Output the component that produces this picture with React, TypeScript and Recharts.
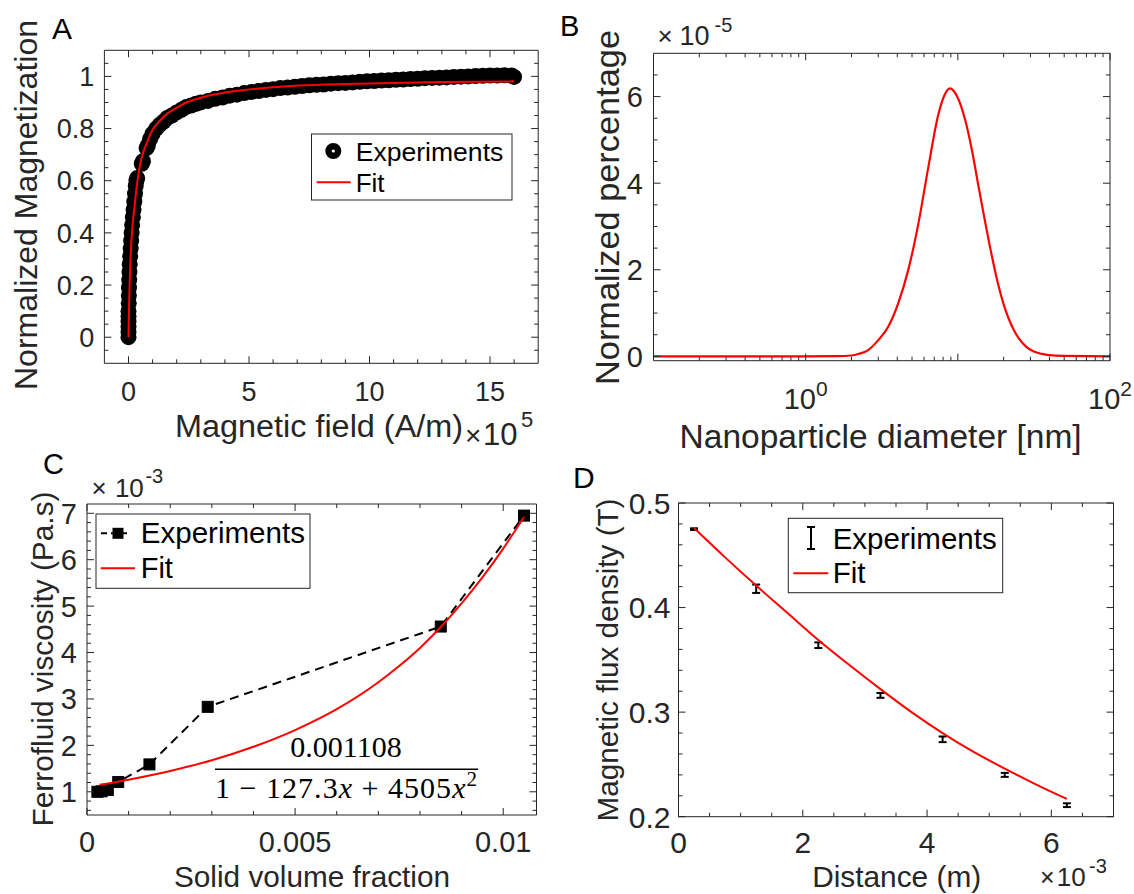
import React from 'react';
import { ComposedChart, Line, Scatter, XAxis, YAxis, ErrorBar } from 'recharts';

const AXIS = '#262626';
const FONT = "'Liberation Sans', Arial, Helvetica, sans-serif";
const SERIF = "'Liberation Serif', 'DejaVu Serif', serif";

// ---------- Panel A : magnetization ----------
const hFitA = [0, 0.01, 0.02, 0.04, 0.07, 0.11, 0.17, 0.25, 0.33, 0.42, 0.5, 0.6, 0.8, 1.0, 1.3, 1.65, 2.0, 2.4, 3.0, 3.4, 4.0, 4.8, 6.0, 7.1, 9.0, 11.0, 13.0, 16.0];
const mFitA = [0, 0.06, 0.1, 0.18, 0.27, 0.35, 0.43, 0.5, 0.57, 0.63, 0.67, 0.705, 0.755, 0.795, 0.83, 0.86, 0.88, 0.9, 0.918, 0.928, 0.938, 0.948, 0.958, 0.965, 0.971, 0.975, 0.978, 0.981];
const hExpA = [0, 0, 0, 0, 0, 0, 0.01, 0.015, 0.02, 0.03, 0.04, 0.05, 0.07, 0.09, 0.11, 0.13, 0.15, 0.18, 0.21, 0.24, 0.27, 0.3, 0.33, 0.36,
  0.55, 0.6, 0.75, 0.8,
  0.9, 1.0, 1.15, 1.3, 1.45, 1.6, 1.8, 2.0, 2.2, 2.4, 2.6, 2.8, 3.0,
  3.3, 3.6, 3.9, 4.2, 4.5, 4.8, 5.1, 5.4, 5.7, 6.0, 6.3, 6.6, 6.9, 7.2, 7.5, 7.8, 8.1, 8.4, 8.7, 9.0, 9.3, 9.6, 9.9, 10.2, 10.5, 10.8,
  11.1, 11.4, 11.7, 12.0, 12.3, 12.6, 12.9, 13.2, 13.5, 13.8, 14.1, 14.4, 14.7, 15.0, 15.3, 15.6, 15.9, 16.0];
const mExpA = [0, 0.02, 0.04, 0.06, 0.08, 0.1, 0.13, 0.16, 0.19, 0.22, 0.25, 0.28, 0.31, 0.34, 0.37, 0.4, 0.43, 0.46, 0.49, 0.52, 0.55, 0.58, 0.6, 0.61,
  0.665, 0.675, 0.725, 0.735,
  0.76, 0.78, 0.8, 0.815, 0.826, 0.84, 0.85, 0.862, 0.872, 0.883, 0.888, 0.895, 0.9,
  0.906, 0.914, 0.919, 0.926, 0.93, 0.936, 0.94, 0.944, 0.948, 0.951, 0.955, 0.957, 0.96, 0.963, 0.966, 0.968, 0.969, 0.972, 0.974, 0.975, 0.977, 0.979, 0.981, 0.982, 0.984, 0.985,
  0.987, 0.988, 0.99, 0.991, 0.993, 0.994, 0.995, 0.996, 0.998, 0.999, 1.0, 1.001, 1.002, 1.003, 1.003, 1.004, 1.003, 0.998];
const aXTicks = [0, 1, 2, 3, 4, 5, 6, 7, 8, 9, 10, 11, 12, 13, 14, 15, 16];
const aXMajor = [0, 5, 10, 15];
const aYTicks = [-0.05, 0, 0.05, 0.1, 0.15, 0.2, 0.25, 0.3, 0.35, 0.4, 0.45, 0.5, 0.55, 0.6, 0.65, 0.7, 0.75, 0.8, 0.85, 0.9, 0.95, 1, 1.05];
const aYMajor = [0, 0.2, 0.4, 0.6, 0.8, 1];

// ---------- Panel B : size distribution ----------
const diamB = [0.1, 0.316, 1, 1.585, 2.0, 2.24, 2.56, 2.99, 3.48, 4.05, 4.71, 5.5, 6.4, 7.45, 8.24, 8.89, 9.84, 11.2, 12.4, 13.7, 15.2, 16.8, 18.6, 20.6, 22.8, 25.1, 28.2, 31.6, 39.8, 50, 100];
const pctB = [0, 0, 0, 0.005, 0.02, 0.06, 0.14, 0.37, 0.68, 1.22, 1.98, 3.06, 4.37, 5.59, 6.06, 6.19, 6.02, 5.45, 4.75, 3.91, 3.06, 2.29, 1.6, 1.06, 0.68, 0.42, 0.22, 0.11, 0.03, 0.01, 0];
const bXTicks = [0.2, 0.3, 0.4, 0.5, 0.6, 0.7, 0.8, 0.9, 1, 2, 3, 4, 5, 6, 7, 8, 9, 10, 20, 30, 40, 50, 60, 70, 80, 90, 100];
const bXMajor = [1, 10, 100];
const bXLabelled = [1, 100];
const bYTicks = [0, 0.5, 1, 1.5, 2, 2.5, 3, 3.5, 4, 4.5, 5, 5.5, 6, 6.5];
const bYMajor = [0, 2, 4, 6];

// ---------- Panel C : viscosity ----------
const phiExpC = [0.00025, 0.00035, 0.0005, 0.00075, 0.0015, 0.0029, 0.0085, 0.0105];
const viscExpC = [1.0, 1.01, 1.04, 1.21, 1.59, 2.83, 4.56, 6.95];
const phiFitC = [0.0003, 0.0005, 0.001, 0.0015, 0.002, 0.003, 0.004, 0.005, 0.006, 0.007, 0.0075, 0.008, 0.0085, 0.009, 0.0095, 0.01, 0.0105];
const viscFitC = [1.15, 1.18, 1.26, 1.35, 1.45, 1.68, 1.97, 2.33, 2.78, 3.36, 3.71, 4.10, 4.55, 5.06, 5.62, 6.24, 6.92];
const cXTicks = [0, 0.001, 0.002, 0.003, 0.004, 0.005, 0.006, 0.007, 0.008, 0.009, 0.01];
const cXMajor = [0, 0.005, 0.01];
const cXLabels = ['0', '0.005', '0.01'];
const cYTicks = [0.6, 0.8, 1, 1.2, 1.4, 1.6, 1.8, 2, 2.2, 2.4, 2.6, 2.8, 3, 3.2, 3.4, 3.6, 3.8, 4, 4.2, 4.4, 4.6, 4.8, 5, 5.2, 5.4, 5.6, 5.8, 6, 6.2, 6.4, 6.6, 6.8, 7];
const cYMajor = [1, 2, 3, 4, 5, 6, 7];

// ---------- Panel D : flux density ----------
const distExpD = [0.25, 1.25, 2.25, 3.25, 4.25, 5.25, 6.25];
const fluxExpD = [0.475, 0.418, 0.364, 0.316, 0.274, 0.24, 0.211];
const fluxErrD = [0.0008, 0.004, 0.0027, 0.0023, 0.0027, 0.0019, 0.0018];
const distFitD = [0.25, 0.75, 1.25, 1.75, 2.25, 2.75, 3.25, 3.75, 4.25, 4.75, 5.25, 5.75, 6.25];
const fluxFitD = [0.476, 0.448, 0.421, 0.395, 0.369, 0.345, 0.322, 0.3, 0.28, 0.262, 0.246, 0.231, 0.217];
const dXTicks = [0, 0.5, 1, 1.5, 2, 2.5, 3, 3.5, 4, 4.5, 5, 5.5, 6, 6.5];
const dXMajor = [0, 2, 4, 6];
const dYTicks = [0.2, 0.22, 0.24, 0.26, 0.28, 0.3, 0.32, 0.34, 0.36, 0.38, 0.4, 0.42, 0.44, 0.46, 0.48, 0.5];
const dYMajor = [0.2, 0.3, 0.4, 0.5];

const zip = (xs: number[], ys: number[]) => xs.map((x, i) => ({ x, y: ys[i] }));
const expA = zip(hExpA, mExpA);
const fitA = zip(hFitA, mFitA);
const distB = zip(diamB, pctB);
const expC = zip(phiExpC, viscExpC);
const fitC = zip(phiFitC, viscFitC);
const expD = distExpD.map((x, i) => ({ x, y: fluxExpD[i], e: fluxErrD[i] }));
const fitD = zip(distFitD, fluxFitD);

type Side = 'bottom' | 'top' | 'left' | 'right';
const isIn = (arr: number[], v: number) => arr.some((m) => Math.abs(m - v) <= Math.abs(m) * 1e-6 + 1e-12);

function makeTick(side: Side, majors: number[], fontSize = 0, offset = 0, label?: (v: number) => React.ReactNode) {
  const TickMark = (props: any) => {
    const { x, y, payload } = props;
    const v = Number(payload.value);
    const major = isIn(majors, v);
    const len = major ? 7 : 4;
    let x2 = x;
    let y2 = y;
    if (side === 'bottom') y2 = y - len;
    if (side === 'top') y2 = y + len;
    if (side === 'left') x2 = x + len;
    if (side === 'right') x2 = x - len;
    let text: React.ReactNode = null;
    if (label && major) {
      const content = label(v);
      if (content !== null && content !== undefined) {
        if (side === 'bottom') {
          text = (
            <text x={x} y={y + offset} textAnchor="middle" fontSize={fontSize} fontFamily={FONT} fill={AXIS}>
              {content}
            </text>
          );
        } else if (side === 'left') {
          text = (
            <text x={x - offset} y={y + fontSize * 0.36} textAnchor="end" fontSize={fontSize} fontFamily={FONT} fill={AXIS}>
              {content}
            </text>
          );
        }
      }
    }
    return (
      <g>
        <line x1={x} y1={y} x2={x2} y2={y2} stroke={AXIS} strokeWidth={1} />
        {text}
      </g>
    );
  };
  return TickMark;
}

const axisCommon = {
  type: 'number' as const,
  allowDataOverflow: true,
  interval: 0 as const,
  tickSize: 0,
  tickMargin: 0,
  tickLine: false,
  axisLine: { stroke: AXIS, strokeWidth: 1 },
};

function Box({ left, top, children }: { left: number; top: number; children: React.ReactNode }) {
  return <div style={{ position: 'absolute', left, top }}>{children}</div>;
}

export default function App() {
  const aBottom = makeTick('bottom', aXMajor, 27, 37.5, (v) => String(v));
  const aLeft = makeTick('left', aYMajor, 27, 10, (v) => String(v));
  const bBottom = makeTick('bottom', bXMajor, 29, 48.6, (v) =>
    isIn(bXLabelled, v) ? (
      <>
        10<tspan dy={-13} fontSize={21}>{v === 1 ? '0' : '2'}</tspan>
      </>
    ) : null
  );
  const bLeft = makeTick('left', bYMajor, 29, 10.5, (v) => String(v));
  const cBottom = makeTick('bottom', cXMajor, 29, 36.7, (v) => cXLabels[cXMajor.findIndex((m) => Math.abs(m - v) < 1e-9)]);
  const cLeft = makeTick('left', cYMajor, 29, 10, (v) => String(v));
  const dBottom = makeTick('bottom', dXMajor, 30, 36.6, (v) => String(v));
  const dLeft = makeTick('left', dYMajor, 30, 8, (v) => String(v));

  const lineExtra: any = { zIndex: 1500 };

  return (
    <div style={{ position: 'absolute', left: 0, top: 0, width: 1134, height: 894, background: '#fff', overflow: 'hidden' }}>
      {/* Panel A */}
      <Box left={0} top={0}>
        <ComposedChart width={560} height={460} margin={{ top: 49.3, right: 20.8, bottom: 95.7, left: 103.4 }}>
          <XAxis xAxisId="b" orientation="bottom" dataKey="x" domain={[-1, 17]} ticks={aXTicks} height={1} tick={aBottom} {...axisCommon} />
          <XAxis xAxisId="t" orientation="top" dataKey="x" domain={[-1, 17]} ticks={aXTicks} height={1} tick={makeTick('top', aXMajor)} {...axisCommon} />
          <YAxis yAxisId="l" orientation="left" dataKey="y" domain={[-0.1, 1.1]} ticks={aYTicks} width={1} tick={aLeft} {...axisCommon} />
          <YAxis yAxisId="r" orientation="right" dataKey="y" domain={[-0.1, 1.1]} ticks={aYTicks} width={1} tick={makeTick('right', aYMajor)} {...axisCommon} />
          <Scatter
            xAxisId="b"
            yAxisId="l"
            data={expA}
            dataKey="y"
            fill="#000"
            isAnimationActive={false}
            shape={(p: any) => <circle cx={p.cx} cy={p.cy} r={8} fill="#000" />}
          />
          <Line xAxisId="b" yAxisId="l" data={fitA} dataKey="y" type="monotone" stroke="#ff0000" strokeWidth={2} dot={false} activeDot={false} isAnimationActive={false} {...lineExtra} />
        </ComposedChart>
      </Box>

      {/* Panel B */}
      <Box left={560} top={0}>
        <ComposedChart width={574} height={460} margin={{ top: 52.3, right: 23, bottom: 98.3, left: 92.5 }}>
          <XAxis xAxisId="b" orientation="bottom" scale="log" dataKey="x" domain={[0.1, 100]} ticks={bXTicks} height={1} tick={bBottom} {...axisCommon} />
          <XAxis xAxisId="t" orientation="top" scale="log" dataKey="x" domain={[0.1, 100]} ticks={bXTicks} height={1} tick={makeTick('top', bXMajor)} {...axisCommon} />
          <YAxis yAxisId="l" orientation="left" dataKey="y" domain={[-0.1, 7]} ticks={bYTicks} width={1} tick={bLeft} {...axisCommon} />
          <YAxis yAxisId="r" orientation="right" dataKey="y" domain={[-0.1, 7]} ticks={bYTicks} width={1} tick={makeTick('right', bYMajor)} {...axisCommon} />
          <Line xAxisId="b" yAxisId="l" data={distB} dataKey="y" type="monotone" stroke="#ff0000" strokeWidth={2.2} dot={false} activeDot={false} isAnimationActive={false} />
        </ComposedChart>
      </Box>

      {/* Panel C */}
      <Box left={0} top={460}>
        <ComposedChart width={560} height={434} margin={{ top: 43, right: 22.5, bottom: 78, left: 86 }}>
          <XAxis xAxisId="b" orientation="bottom" dataKey="x" domain={[0, 0.0108]} ticks={cXTicks} height={1} tick={cBottom} {...axisCommon} />
          <XAxis xAxisId="t" orientation="top" dataKey="x" domain={[0, 0.0108]} ticks={cXTicks} height={1} tick={makeTick('top', cXMajor)} {...axisCommon} />
          <YAxis yAxisId="l" orientation="left" dataKey="y" domain={[0.5, 7.2]} ticks={cYTicks} width={1} tick={cLeft} {...axisCommon} />
          <YAxis yAxisId="r" orientation="right" dataKey="y" domain={[0.5, 7.2]} ticks={cYTicks} width={1} tick={makeTick('right', cYMajor)} {...axisCommon} />
          <Line
            xAxisId="b"
            yAxisId="l"
            data={expC}
            dataKey="y"
            type="linear"
            stroke="#000"
            strokeWidth={2}
            strokeDasharray="9 6"
            activeDot={false}
            isAnimationActive={false}
            dot={(p: any) => <rect key={`sq${p.index}`} x={p.cx - 5.5} y={p.cy - 5.5} width={11} height={11} fill="#000" stroke="#000" strokeDasharray="0" />}
          />
          <Line xAxisId="b" yAxisId="l" data={fitC} dataKey="y" type="monotone" stroke="#ff0000" strokeWidth={2} dot={false} activeDot={false} isAnimationActive={false} {...lineExtra} />
        </ComposedChart>
      </Box>

      {/* Panel D */}
      <Box left={560} top={460}>
        <ComposedChart width={574} height={434} margin={{ top: 42, right: 19.5, bottom: 76.3, left: 117.5 }}>
          <XAxis xAxisId="b" orientation="bottom" dataKey="x" domain={[0, 7]} ticks={dXTicks} height={1} tick={dBottom} {...axisCommon} />
          <XAxis xAxisId="t" orientation="top" dataKey="x" domain={[0, 7]} ticks={dXTicks} height={1} tick={makeTick('top', dXMajor)} {...axisCommon} />
          <YAxis yAxisId="l" orientation="left" dataKey="y" domain={[0.2, 0.5]} ticks={dYTicks} width={1} tick={dLeft} {...axisCommon} />
          <YAxis yAxisId="r" orientation="right" dataKey="y" domain={[0.2, 0.5]} ticks={dYTicks} width={1} tick={makeTick('right', dYMajor)} {...axisCommon} />
          <Scatter xAxisId="b" yAxisId="l" data={expD} dataKey="y" isAnimationActive={false} shape={() => <g />}>
            <ErrorBar dataKey="e" direction="y" width={4} stroke="#000" strokeWidth={2} isAnimationActive={false} />
          </Scatter>
          <Line xAxisId="b" yAxisId="l" data={fitD} dataKey="y" type="monotone" stroke="#ff0000" strokeWidth={2} dot={false} activeDot={false} isAnimationActive={false} {...lineExtra} />
        </ComposedChart>
      </Box>

      {/* Annotations: panel letters, axis titles, exponents, legends, equation */}
      <svg width={1134} height={894} style={{ position: 'absolute', left: 0, top: 0, pointerEvents: 'none' }} fontFamily={FONT}>
        <text x={52} y={39.3} fontSize={30} fill="#000">A</text>
        <text x={560} y={36} fontSize={29} fill="#000">B</text>
        <text x={43} y={474} fontSize={29} fill="#000">C</text>
        <text x={573} y={488} fontSize={30} fill="#000">D</text>

        {/* Panel A titles */}
        <text transform="translate(37.3,205) rotate(-90)" textAnchor="middle" fontSize={32} fill={AXIS} textLength={370} lengthAdjust="spacingAndGlyphs">Normalized Magnetization</text>
        <text x={319} y={437} textAnchor="middle" fontSize={31} fill={AXIS} textLength={288} lengthAdjust="spacingAndGlyphs">Magnetic field (A/m)</text>
        <text x={465} y={445} fontSize={28} fill={AXIS}>×</text>
        <text x={483} y={445} fontSize={31} fill={AXIS}>10</text>
        <text x={521} y={427} fontSize={22} fill={AXIS}>5</text>

        {/* Panel A legend */}
        <rect x={311.5} y={134} width={200.5} height={66} fill="#fff" stroke={AXIS} strokeWidth={1} />
        <circle cx={333.3} cy={151} r={4.8} fill="#fff" stroke="#000" strokeWidth={6.4} />
        <text x={355.7} y={160.7} fontSize={26} fill="#000" textLength={147.6} lengthAdjust="spacingAndGlyphs">Experiments</text>
        <line x1={316.7} x2={350.7} y1={182.3} y2={182.3} stroke="#ff0000" strokeWidth={2} />
        <text x={355.7} y={192.3} fontSize={26} fill="#000">Fit</text>

        {/* Panel B titles */}
        <text transform="translate(619.3,207.5) rotate(-90)" textAnchor="middle" fontSize={34} fill={AXIS} textLength={355} lengthAdjust="spacingAndGlyphs">Normalized percentage</text>
        <text x={880.6} y={448.3} textAnchor="middle" fontSize={33.5} fill={AXIS} textLength={402} lengthAdjust="spacingAndGlyphs">Nanoparticle diameter [nm]</text>
        <text x={657.5} y={45} fontSize={26} fill={AXIS}>×</text>
        <text x={679.6} y={45} fontSize={27} fill={AXIS}>10</text>
        <text x={714.5} y={31.7} fontSize={20} fill={AXIS}>-5</text>

        {/* Panel C titles */}
        <text transform="translate(53,659) rotate(-90)" textAnchor="middle" fontSize={30} fill={AXIS} textLength={335} lengthAdjust="spacingAndGlyphs">Ferrofluid viscosity (Pa.s)</text>
        <text x={312} y={887} textAnchor="middle" fontSize={30} fill={AXIS} textLength={276} lengthAdjust="spacingAndGlyphs">Solid volume fraction</text>
        <text x={91.5} y={496.7} fontSize={26} fill={AXIS}>×</text>
        <text x={114.9} y={496.7} fontSize={26} fill={AXIS}>10</text>
        <text x={145.4} y={483.3} fontSize={20} fill={AXIS}>-3</text>

        {/* Panel C legend */}
        <rect x={96} y={514} width={214} height={74.3} fill="#fff" stroke={AXIS} strokeWidth={1} />
        <line x1={101} x2={131} y1={533.3} y2={533.3} stroke="#000" strokeWidth={2} strokeDasharray="6 4" />
        <rect x={112.5} y={527.8} width={11} height={11} fill="#000" />
        <text x={140.7} y={543.3} fontSize={29} fill="#000" textLength={164.3} lengthAdjust="spacingAndGlyphs">Experiments</text>
        <line x1={100.7} x2={135} y1={568.3} y2={568.3} stroke="#ff0000" strokeWidth={2} />
        <text x={140.7} y={578.3} fontSize={29} fill="#000">Fit</text>

        {/* Panel C equation */}
        <text x={346} y={756.7} textAnchor="middle" fontSize={30} fontFamily={SERIF} fill="#000">0.001108</text>
        <line x1={215} x2={478} y1={769.3} y2={769.3} stroke="#000" strokeWidth={1.5} />
        <text x={215} y={798} fontSize={30} fontFamily={SERIF} fill="#000" textLength={262} lengthAdjust="spacing">
          1 − 127.3<tspan fontStyle="italic">x</tspan> + 4505<tspan fontStyle="italic">x</tspan>
          <tspan dy={-12} fontSize={21}>2</tspan>
        </text>

        {/* Panel D titles */}
        <text transform="translate(617.5,660) rotate(-90)" textAnchor="middle" fontSize={30} fill={AXIS} textLength={323} lengthAdjust="spacingAndGlyphs">Magnetic flux density (T)</text>
        <text x={896.7} y={886.5} textAnchor="middle" fontSize={30} fill={AXIS} textLength={169} lengthAdjust="spacingAndGlyphs">Distance (m)</text>
        <text x={1040} y={886} fontSize={25} fill={AXIS}>×</text>
        <text x={1056.7} y={886} fontSize={26} fill={AXIS}>10</text>
        <text x={1089} y={873} fontSize={20} fill={AXIS}>-3</text>

        {/* Panel D legend */}
        <rect x={788.3} y={518.3} width={214.4} height={74.4} fill="#fff" stroke={AXIS} strokeWidth={1} />
        <line x1={811} x2={811} y1={527} y2={549} stroke="#000" strokeWidth={2} />
        <line x1={807} x2={815} y1={527} y2={527} stroke="#000" strokeWidth={2} />
        <line x1={807} x2={815} y1={549} y2={549} stroke="#000" strokeWidth={2} />
        <text x={832.7} y={549.4} fontSize={29.5} fill="#000" textLength={164} lengthAdjust="spacingAndGlyphs">Experiments</text>
        <line x1={793.3} x2={828.3} y1={573.3} y2={573.3} stroke="#ff0000" strokeWidth={2} />
        <text x={832.7} y={583} fontSize={29.5} fill="#000">Fit</text>
      </svg>
    </div>
  );
}
